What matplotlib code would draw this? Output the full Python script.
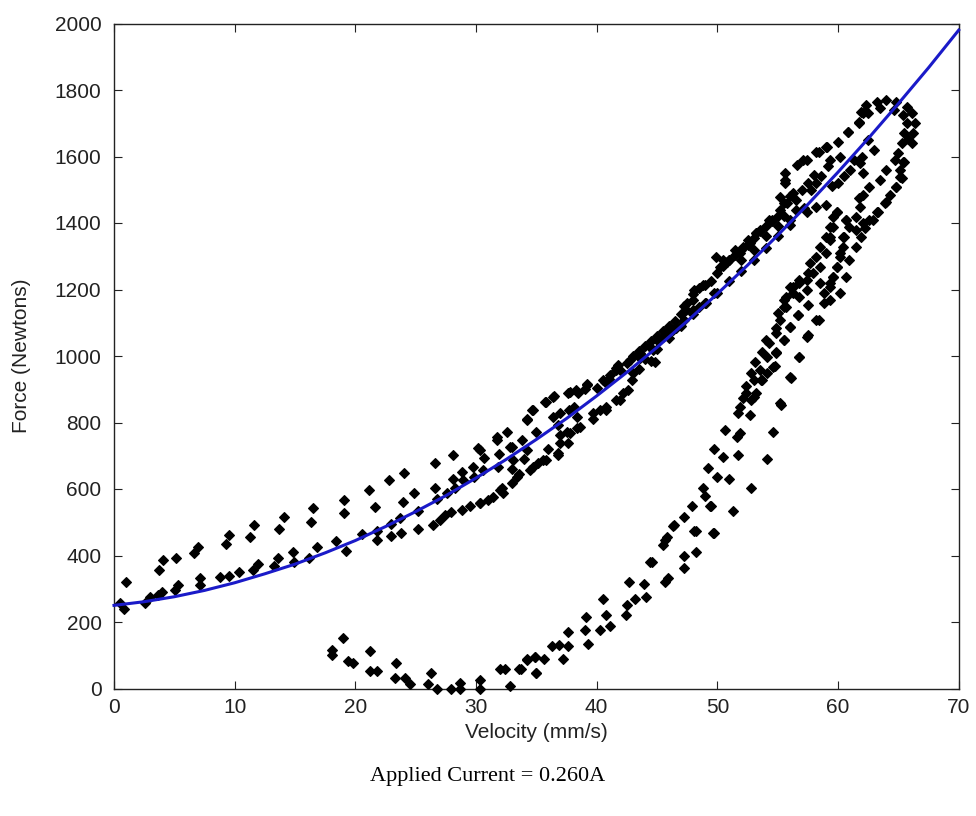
import matplotlib
matplotlib.use("Agg")
import matplotlib.pyplot as plt

# ---- data ----
# loading branch, low velocity scattered points
v_a = [0.97, 0.5, 0.86, 2.57, 2.98, 3.67, 3.95, 3.76, 4.09, 5.14, 5.05, 5.33, 6.65, 6.99, 7.13, 7.13,
       8.78, 9.55, 10.38, 9.25, 9.55, 11.27, 11.63, 11.49, 11.96, 13.26, 13.56, 13.7, 14.08, 14.86,
       14.91, 16.18, 16.32, 16.46, 16.79, 18.37, 19.06, 19.06, 19.2, 21.15, 21.62, 20.52, 21.77, 21.77,
       22.8, 24.03, 22.92, 22.92, 23.7, 23.78, 23.92, 24.85, 25.21, 25.16, 26.6, 26.6, 26.74, 26.46,
       27.0, 27.4, 27.6, 28.06, 28.06, 28.25, 27.9, 28.8, 28.94, 28.8, 29.5, 29.77, 29.83, 30.18, 30.32,
       30.68, 30.6, 31.0, 31.43, 31.76, 31.92, 31.84, 32.12, 32.2, 32.53, 32.95, 33.08, 32.95, 33.58,
       33.78, 34.19, 34.19, 34.6, 34.47, 35.0, 35.16, 35.71, 35.57, 36.45, 36.35, 36.81, 36.95, 36.81,
       37.64, 37.72, 37.56, 37.64, 38.33, 38.33, 38.47]
f_a = [321, 258, 238, 258, 276, 281, 291, 356, 386, 391, 296, 310, 408, 426, 331, 311,
       334, 339, 351, 434, 462, 457, 492, 356, 374, 368, 393, 479, 515, 410,
       381, 393, 502, 543, 426, 444, 567, 527, 414, 597, 547, 465, 475, 447,
       627, 647, 495, 459, 512, 469, 562, 587, 535, 479, 679, 604, 569, 492,
       507, 522, 587, 702, 629, 602, 532, 652, 627, 537, 549, 667, 637, 722, 559,
       692, 657, 567, 577, 747, 705, 667, 602, 587, 772, 725, 687, 617, 645,
       747, 808, 717, 838, 657, 772, 677, 862, 687, 880, 817, 793, 762, 702,
       888, 838, 772, 737, 817, 782, 888]

# loading branch, dense band (30-57 mm/s)
v_b = [30.3, 32.0, 33.4, 34.7, 35.8, 36.8, 37.0, 37.8, 38.6, 39.7, 40.8, 41.9, 42.6, 42.9, 43.0,
       30.3, 31.7, 32.8, 34.2, 34.7, 35.8, 36.4, 37.8, 39.2, 40.5, 41.6, 42.5, 43.6, 44.7, 45.5,
       46.3, 47.2, 48.0, 49.1, 38.3, 39.2, 40.7, 41.1, 41.6, 41.8, 42.8, 43.6, 44.4, 45.0, 45.8,
       46.6, 47.2, 47.4, 48.0, 48.1, 48.8, 48.5, 49.7, 50.2, 50.8, 51.9, 52.7, 53.2, 37.0, 38.1,
       39.7, 40.3, 40.8, 41.6, 42.2, 44.8, 50.5, 51.5, 52.5, 53.5, 54.5, 55.5, 56.5, 57.2, 52.0,
       53.0, 54.0, 55.0, 56.0, 51.0, 52.1, 53.2, 54.3, 55.2, 55.2, 49.9, 57.4, 59.0, 59.9]
f_b = [558, 597, 637, 667, 687, 707, 737, 767, 787, 812, 838, 868, 898, 928, 948,
       717, 757, 727, 812, 838, 862, 878, 893, 913, 928, 958, 978, 993, 1018, 1058,
       1078, 1108, 1138, 1158, 898, 915, 923, 943, 963, 973, 988, 1008, 1028, 1048, 1068,
       1083, 1150, 1138, 1168, 1198, 1213, 1148, 1188, 1268, 1283, 1309, 1339, 1369, 828, 848,
       828, 838, 848, 868, 888, 983, 1290, 1320, 1350, 1380, 1410, 1420, 1440, 1445, 1290,
       1320, 1360, 1390, 1410, 1289, 1329, 1369, 1409, 1439, 1479, 1299, 1434, 1454, 1434]

# extra dense-band readings (upper strand and on the curve)
v_b2 = [43.0, 43.5, 44.0, 44.5, 45.0, 45.5, 46.0, 46.5, 47.0, 47.5, 48.0, 48.5, 49.0, 49.5, 50.0,
        50.5, 51.0, 51.5, 52.0, 52.5, 53.0, 53.5, 54.0, 54.5, 55.0, 44.0, 45.0, 46.0, 47.0, 48.0,
        49.0, 50.0, 51.0, 52.0, 53.0, 54.0, 55.0, 56.0, 43.5, 44.5, 39.0, 40.0, 41.0, 42.0, 36.0,
        34.0, 33.0, 56.5, 57.0, 57.5, 58.0, 55.8, 56.3]
f_b2 = [1000, 1015, 1030, 1045, 1060, 1075, 1090, 1105, 1125, 1160, 1185, 1205, 1215, 1225, 1250,
        1270, 1290, 1305, 1320, 1335, 1355, 1375, 1390, 1405, 1420, 990, 1020, 1055, 1090, 1125,
        1160, 1190, 1225, 1255, 1290, 1325, 1360, 1395, 960, 985, 900, 905, 930, 955, 720,
        690, 660, 1470, 1500, 1520, 1545, 1460, 1490]

# top loop (55-66 mm/s)
v_c = [55.6, 55.6, 56.6, 57.4, 58.2, 59.1, 60.0, 60.8, 61.7, 61.9, 62.3, 63.2, 64.0, 64.8, 65.7,
       66.1, 66.4, 66.2, 66.1, 62.5, 63.5, 64.6, 65.4, 65.7, 65.5, 65.3, 65.0, 64.7, 65.4, 65.1,
       65.1, 64.8, 64.3, 63.9, 63.3, 62.9, 62.2, 61.9, 61.5, 64.0, 63.5, 62.6, 62.1, 61.7, 61.8,
       61.5, 60.9, 60.5, 60.4, 60.2, 59.9, 59.6, 59.3, 61.8, 62.1, 61.3, 60.2, 59.3, 58.2, 59.3,
       59.6, 59.3, 59.0, 58.5, 58.2, 57.7, 57.5, 56.8, 56.3, 55.7, 55.5, 55.6, 57.1, 58.4, 59.0,
       60.8, 61.7, 62.1, 57.8, 58.6, 59.2, 58.2, 55.5, 56.0, 62.5, 63.0, 62.0, 61.0, 60.5, 60.0,
       59.5, 60.7, 62.1, 62.6, 63.2, 64.0, 64.8, 65.3, 65.5, 65.8]
f_c = [1529, 1551, 1574, 1589, 1614, 1629, 1644, 1675, 1700, 1735, 1755, 1765, 1770, 1765, 1750,
       1730, 1700, 1670, 1640, 1730, 1745, 1740, 1725, 1700, 1670, 1640, 1610, 1589, 1584, 1559,
       1539, 1509, 1484, 1459, 1434, 1409, 1384, 1359, 1329, 1559, 1529, 1509, 1484, 1474, 1449,
       1419, 1389, 1359, 1329, 1299, 1269, 1238, 1219, 1581, 1550, 1589, 1599, 1589, 1449, 1389,
       1419, 1359, 1359, 1329, 1299, 1279, 1249, 1229, 1209, 1178, 1148, 1519, 1589, 1614, 1629,
       1675, 1705, 1730, 1500, 1540, 1570, 1520, 1460, 1480, 1650, 1620, 1600, 1560, 1540, 1520,
       1510, 1409, 1399, 1409, 1434, 1464, 1509, 1534, 1584, 1654]

# unloading branches (descending to zero force)
v_d = [59.9, 59.6, 59.3, 59.0, 58.5, 57.9, 57.4, 56.8, 56.3, 55.7, 55.2, 54.9, 54.3, 54.1, 53.5,
       53.0, 52.4, 51.9, 60.7, 60.4, 60.2, 59.9, 59.6, 59.3, 58.5, 58.8, 57.4, 56.8, 56.7, 56.0,
       55.5, 54.9, 54.6, 54.1, 53.6, 53.2, 52.8, 61.5, 60.9, 60.7, 60.2, 59.3, 58.2, 57.4, 56.8,
       56.0, 55.2, 56.0, 55.5, 55.0, 54.9, 54.0, 53.7, 53.1, 52.8, 53.7, 52.4, 52.1, 53.0, 52.7,
       51.7, 50.6, 51.6, 51.9, 49.7, 50.5, 51.7, 49.2, 50.0, 51.0, 48.8, 49.0, 47.9, 49.4, 51.3,
       47.2, 46.3, 48.1, 49.7, 45.8, 58.8, 57.5, 56.7, 58.4, 56.0, 57.5, 55.5, 56.8, 54.9, 54.8,
       56.1, 55.3, 54.6, 54.1, 52.8, 49.5, 46.4, 48.2, 49.6, 45.7, 45.5, 47.2, 48.2, 47.2, 44.6,
       44.4, 45.7, 45.9, 42.7, 43.9, 44.1, 43.2, 42.5, 42.4, 40.5, 40.8, 41.1, 40.3, 39.1, 39.0,
       39.3, 37.6, 36.9, 36.3, 37.6, 37.2, 35.6, 34.9, 34.2, 35.0, 33.7]
f_d = [1434, 1389, 1349, 1309, 1269, 1249, 1229, 1219, 1189, 1148, 1108, 1068, 1038, 998, 958,
       928, 888, 848, 1409, 1359, 1309, 1269, 1239, 1209, 1219, 1189, 1199, 1178, 1123, 1088,
       1048, 1008, 968, 948, 928, 888, 868, 1379, 1289, 1239, 1189, 1168, 1108, 1058, 998,
       938, 858, 1209, 1168, 1128, 1083, 1048, 1013, 983, 948, 928, 910, 873, 878, 823,
       830, 778, 757, 768, 720, 697, 702, 662, 637, 630, 602, 579, 549, 549, 534,
       515, 490, 475, 467, 457, 1158, 1153, 1123, 1108, 1088, 1063, 1048, 998, 1013, 970,
       935, 853, 770, 689, 602, 549, 492, 474, 467, 447, 432, 398, 410, 363, 380,
       380, 321, 331, 321, 314, 274, 269, 251, 221, 269, 221, 188, 176, 216, 176,
       134, 169, 131, 129, 129, 88, 89, 96, 89, 46, 58]

# low force points near zero
v_e = [18.1, 18.1, 19.0, 19.4, 19.8, 21.2, 21.2, 21.8, 23.4, 23.3, 24.1, 24.5, 26.3, 26.0, 26.8,
       27.9, 28.7, 28.7, 30.3, 30.3, 32.0, 32.4, 32.8, 33.6, 34.2, 34.9, 35.0]
f_e = [116, 101, 153, 83, 76, 113, 53, 53, 78, 31, 31, 14, 48, 14, 0,
       0, 17, 0, 26, 0, 58, 58, 8, 58, 86, 96, 48]

# fitted curve, read at 2.5 mm/s steps
v_fit = [0, 2.5, 5, 7.5, 10, 12.5, 15, 17.5, 20, 22.5, 25, 27.5, 30, 32.5, 35,
         37.5, 40, 42.5, 45, 47.5, 50, 52.5, 55, 57.5, 60, 62.5, 65, 67.5, 70]
f_fit = [250, 261, 276, 295, 318, 345, 374, 408, 445, 487, 532, 580, 633, 689, 749,
         812, 880, 951, 1026, 1105, 1187, 1273, 1363, 1456, 1553, 1654, 1759, 1867, 1980]

x_ticks = [0, 10, 20, 30, 40, 50, 60, 70]
y_ticks = [0, 200, 400, 600, 800, 1000, 1200, 1400, 1600, 1800, 2000]

label_font = 'Liberation Sans'
tick_size = 15

W, H = 976, 816
fig = plt.figure(figsize=(W / 100, H / 100), dpi=100)
ax = fig.add_axes([114 / W, (H - 688.5) / H, 844.7 / W, 665 / H])

for vv, ff in [(v_a, f_a), (v_b, f_b), (v_b2, f_b2), (v_c, f_c), (v_d, f_d), (v_e, f_e)]:
    ax.plot(vv, ff, linestyle='none', marker='D', markersize=5.6,
            color='black', markeredgewidth=0.8, clip_on=False, zorder=3)

ax.plot(v_fit, f_fit, color='#1a1ac8', linewidth=2.2, zorder=4, clip_on=False,
        solid_joinstyle='round')

ax.set_xlim(0, 70)
ax.set_ylim(0, 2000)
ax.set_xticks(x_ticks)
ax.set_yticks(y_ticks)
ax.tick_params(direction='in', top=True, right=True, length=6, width=0.8,
               labelsize=tick_size, colors='#222222')
ax.tick_params(axis='y', pad=9)
ax.tick_params(axis='x', pad=7)
for s in ax.spines.values():
    s.set_linewidth(1.0)
    s.set_color('#222222')
for lab in ax.get_xticklabels() + ax.get_yticklabels():
    lab.set_fontfamily(label_font)

ax.set_xlabel('Velocity (mm/s)', fontsize=tick_size, family=label_font, color='#222222')
ax.set_ylabel('Force (Newtons)', fontsize=tick_size, family=label_font, color='#222222')
ax.xaxis.set_label_coords(0.5, -(733 - 688.5) / 665)
ax.yaxis.set_label_coords(-(114 - 22) / 844.7, 0.5)
ax.xaxis.label.set_va('center')
ax.yaxis.label.set_va('center')

fig.text(0.5, 1 - 776 / H, 'Applied Current = 0.260A', ha='center', va='center',
         fontsize=16, family='Liberation Serif', color='black')

fig.savefig('out.png', dpi=100, facecolor='white')
